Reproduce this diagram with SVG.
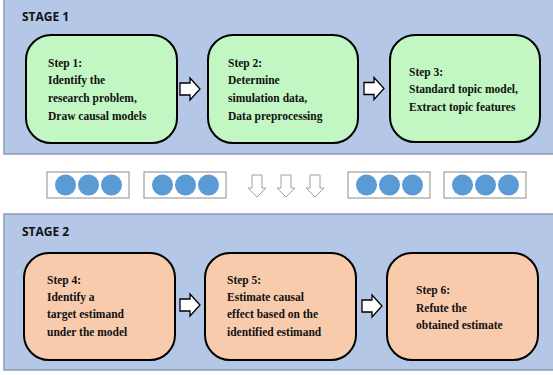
<svg xmlns="http://www.w3.org/2000/svg" width="553" height="375" viewBox="0 0 553 375">
  <defs>
    <style>
      .panel { fill: #B4C7E7; stroke: #8C9BB4; stroke-width: 1.5; }
      .stage { font-family: "Open Sans", "Noto Sans", sans-serif; font-weight: bold; font-size: 12px; fill: #111; }
      .step { stroke: #000; stroke-width: 2; }
      .green { fill: #C2F6C2; }
      .orange { fill: #F8CBAD; }
      .label { font-family: "Liberation Serif", "Times New Roman", serif; font-weight: bold; font-size: 11.5px; fill: #111; }
      .harrow { fill: #FFFFFF; stroke: #000; stroke-width: 1.3; stroke-linejoin: miter; }
      .dots { fill: #FFFFFF; stroke: #A6A6A6; stroke-width: 1.3; }
      .dot { fill: #5B9BD5; }
      .varrow { fill: #FFFFFF; stroke: #A0A0A0; stroke-width: 1; }
    </style>
    <!-- right-pointing block arrow, 20 wide, centred on y=0 -->
    <path id="rightArrow" class="harrow" d="M0,-6 L10,-6 L10,-11 L20,0 L10,11 L10,6 L0,6 Z"/>
    <!-- down-pointing outline arrow, centred on x=0 -->
    <path id="downArrow" class="varrow" d="M-5,0 L5,0 L5,13 L9,13 L0,22 L-9,13 L-5,13 Z"/>
    <g id="dotRow">
      <rect class="dots" x="0" y="0" width="82" height="26"/>
      <circle class="dot" cx="18.5" cy="13" r="10.5"/>
      <circle class="dot" cx="41.5" cy="13" r="10.5"/>
      <circle class="dot" cx="64.5" cy="13" r="10.5"/>
    </g>
  </defs>

  <rect width="553" height="375" fill="#FFFFFF"/>

  <!-- stage panels -->
  <g id="stage1">
    <rect class="panel" x="4" y="-2" width="552" height="156"/>
    <text class="stage" x="22" y="21">STAGE 1</text>
  </g>
  <g id="stage2">
    <rect class="panel" x="4" y="214" width="552" height="156"/>
    <text class="stage" x="22" y="236">STAGE 2</text>
  </g>

  <!-- steps -->
  <g id="step1">
    <rect class="step green" x="26" y="35" width="151" height="108" rx="25" ry="25"/>
    <text class="label" x="48" y="66.5">Step 1:</text>
    <text class="label" x="48" y="84.2">Identify the</text>
    <text class="label" x="48" y="101.9">research problem,</text>
    <text class="label" x="48" y="119.6">Draw causal models</text>
  </g>
  <g id="step2">
    <rect class="step green" x="208" y="35" width="150" height="108" rx="25" ry="25"/>
    <text class="label" x="228" y="66.5">Step 2:</text>
    <text class="label" x="228" y="84.2">Determine</text>
    <text class="label" x="228" y="101.9">simulation data,</text>
    <text class="label" x="228" y="119.6">Data preprocessing</text>
  </g>
  <g id="step3">
    <rect class="step green" x="390" y="35" width="150" height="107" rx="25" ry="25"/>
    <text class="label" x="409" y="75.5">Step 3:</text>
    <text class="label" x="409" y="93.2">Standard topic model,</text>
    <text class="label" x="409" y="110.9">Extract topic features</text>
  </g>
  <g id="step4">
    <rect class="step orange" x="24" y="253" width="151" height="107" rx="25" ry="25"/>
    <text class="label" x="47" y="283.8">Step 4:</text>
    <text class="label" x="47" y="301.1">Identify a</text>
    <text class="label" x="47" y="318.4">target estimand</text>
    <text class="label" x="47" y="335.7">under the model</text>
  </g>
  <g id="step5">
    <rect class="step orange" x="205" y="253" width="151" height="107" rx="25" ry="25"/>
    <text class="label" x="227" y="283.8">Step 5:</text>
    <text class="label" x="227" y="301.1">Estimate causal</text>
    <text class="label" x="227" y="318.4">effect based on the</text>
    <text class="label" x="227" y="335.7">identified estimand</text>
  </g>
  <g id="step6">
    <rect class="step orange" x="387" y="253" width="151" height="107" rx="25" ry="25"/>
    <text class="label" x="416" y="294.3">Step 6:</text>
    <text class="label" x="416" y="311.6">Refute the</text>
    <text class="label" x="416" y="328.9">obtained estimate</text>
  </g>

  <!-- separator row between the stages -->
  <g id="transition">
    <use href="#dotRow" x="47" y="172"/>
    <use href="#dotRow" x="144" y="172"/>
    <use href="#dotRow" x="348" y="172"/>
    <use href="#dotRow" x="444" y="172"/>
    <use href="#downArrow" x="257" y="175"/>
    <use href="#downArrow" x="286" y="175"/>
    <use href="#downArrow" x="315" y="175"/>
  </g>

  <!-- connectors -->
  <g id="connectors">
    <use href="#rightArrow" x="180" y="89"/>
    <use href="#rightArrow" x="364" y="88.5"/>
    <use href="#rightArrow" x="180" y="305"/>
    <use href="#rightArrow" x="362" y="306"/>
  </g>
</svg>
